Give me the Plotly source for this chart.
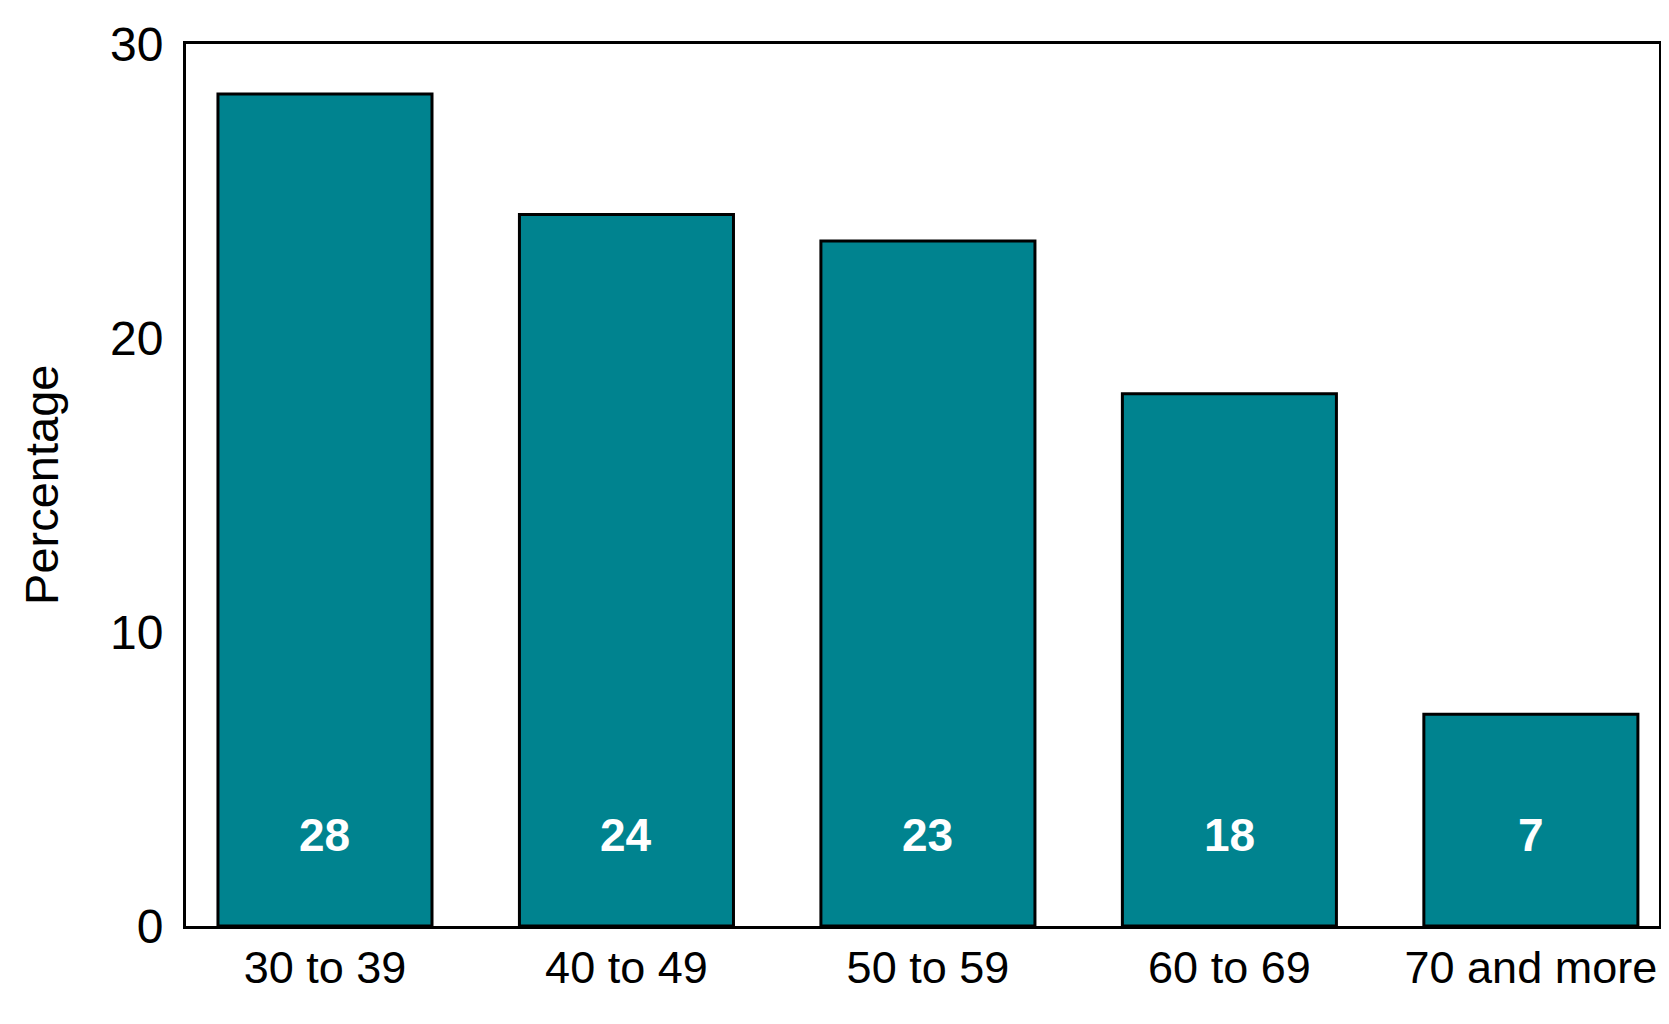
import plotly.graph_objects as go

# age groups and share of respondents (%)
age_groups = ["30 to 39", "40 to 49", "50 to 59", "60 to 69", "70 and more"]
percentages = [28.3, 24.2, 23.3, 18.1, 7.2]
bar_labels = ["28", "24", "23", "18", "7"]
y_ticks = [0, 10, 20, 30]

FONT = "Liberation Sans, Arial, sans-serif"
TEAL = "#00838f"

fig = go.Figure()
fig.add_trace(go.Bar(
    x=age_groups, y=percentages,
    marker=dict(color=TEAL, line=dict(color="black", width=3)),
    hoverinfo="skip",
))

# value labels near the bottom of each bar
for grp, lab in zip(age_groups, bar_labels):
    fig.add_annotation(x=grp, y=3.1, text=f"<b>{lab}</b>", showarrow=False,
                       font=dict(family=FONT, size=46, color="white"))

fig.add_annotation(x=-0.0985, y=0.5, xref="paper", yref="paper", text="Percentage",
                   textangle=-90, showarrow=False, xanchor="center", yanchor="middle",
                   font=dict(family=FONT, size=47, color="black"))

# body has an 8px margin; keep the figure inside the window so no scrollbars
fig.update_layout(
    width=1653, height=1008,
    margin=dict(l=178, r=2, t=36, b=90, autoexpand=False),
    paper_bgcolor="white", plot_bgcolor="white",
    bargap=0.29, showlegend=False,
    font=dict(family=FONT, size=45, color="black"),
)
fig.update_xaxes(range=[-0.461, 4.425], showline=True, linecolor="black", linewidth=3,
                 mirror=True, ticks="", showgrid=False, automargin=False,
                 tickfont=dict(size=45))
fig.update_yaxes(range=[0, 30], tickvals=y_ticks, showline=True, linecolor="black",
                 linewidth=3, mirror=True, ticks="", showgrid=False, zeroline=False,
                 automargin=False, ticklabelstandoff=10, tickfont=dict(size=48))

fig.write_html("out.html")
